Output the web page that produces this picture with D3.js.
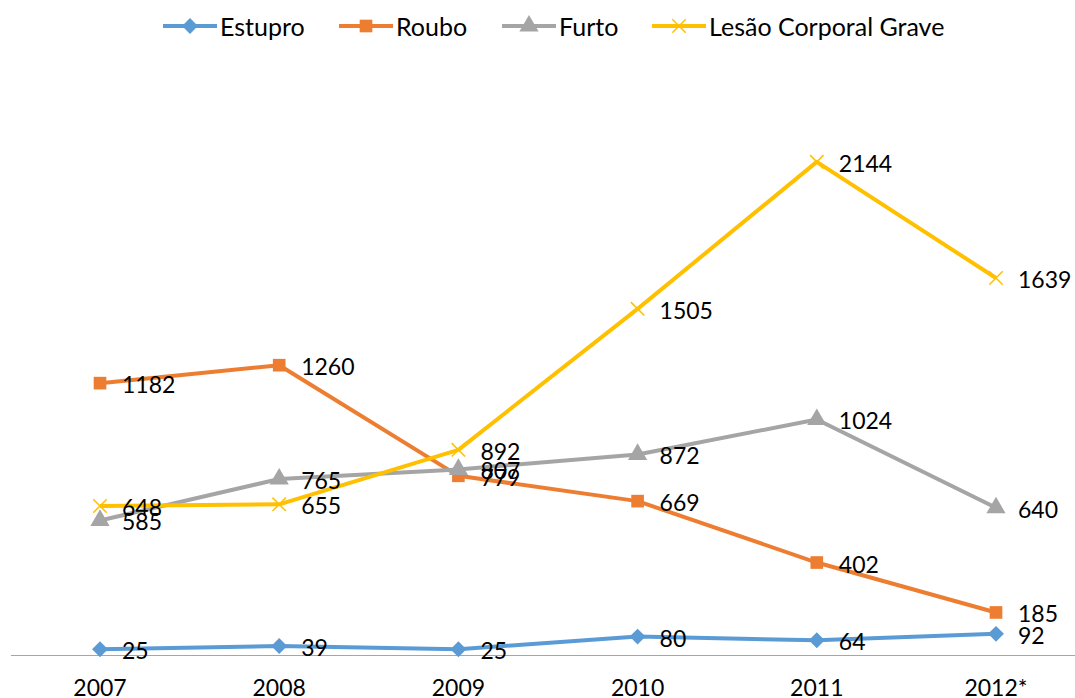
<!DOCTYPE html>
<html>
<head>
<meta charset="utf-8">
<script src="https://cdn.jsdelivr.net/npm/d3@7"></script>
<style>
  body { margin: 0; background: #fff; }
  text { font-family: Lato, "Open Sans", sans-serif; fill: #000; }
</style>
</head>
<body>
<div id="chart"></div>
<script>
const years = ["2007", "2008", "2009", "2010", "2011", "2012*"];
const estupro = [25, 39, 25, 80, 64, 92];
const roubo = [1182, 1260, 779, 669, 402, 185];
const furto = [585, 765, 807, 872, 1024, 640];
const lesao = [648, 655, 892, 1505, 2144, 1639];

const series = [
  { name: "Estupro", values: estupro, color: "#5B9BD5", symbol: d3.symbolDiamond2 },
  { name: "Roubo", values: roubo, color: "#ED7D31", symbol: d3.symbolSquare },
  { name: "Furto", values: furto, color: "#A5A5A5", symbol: d3.symbolTriangle },
  { name: "Lesão Corporal Grave", values: lesao, color: "#FFC000", symbol: d3.symbolTimes }
];

const width = 1075, height = 698;
const svg = d3.select("#chart").append("svg")
  .attr("width", width)
  .attr("height", height);

const x = d3.scaleBand().domain(years).range([10.4, 1085.6]);
const y = d3.scaleLinear().domain([0, 2500]).range([655, 80]);
const cx = d => x(d) + x.bandwidth() / 2;

// x axis
const axis = svg.append("g")
  .attr("transform", `translate(0,${y(0)})`)
  .call(d3.axisBottom(x).tickSize(0).tickPadding(25));
axis.select(".domain").attr("stroke", "#a6a6a6").attr("stroke-width", 1);
axis.selectAll("text").style("font-size", "23px").style("font-family", "Lato, sans-serif");

const line = d3.line()
  .x((v, i) => cx(years[i]))
  .y(v => y(v));

function marker(sel, s) {
  const isX = s.symbol === d3.symbolTimes;
  sel.attr("d", d3.symbol().type(s.symbol).size(isX ? 120 : 160))
    .attr("fill", isX ? "none" : s.color)
    .attr("stroke", isX ? s.color : "none")
    .attr("stroke-width", 1.5);
}

series.forEach(s => {
  const g = svg.append("g");
  g.append("path")
    .attr("d", line(s.values))
    .attr("fill", "none")
    .attr("stroke", s.color)
    .attr("stroke-width", 4)
    .attr("stroke-linejoin", "round");
  g.selectAll("path.mark")
    .data(s.values)
    .enter().append("path")
    .attr("class", "mark")
    .attr("transform", (v, i) => `translate(${cx(years[i])},${y(v)})`)
    .call(marker, s);
});

// data labels
series.forEach(s => {
  svg.append("g").selectAll("text")
    .data(s.values)
    .enter().append("text")
    .attr("x", (v, i) => cx(years[i]) + 22)
    .attr("y", v => y(v) + 10)
    .style("font-size", "23px")
    .text(v => v);
});

// legend
const legendX = [163, 339, 502, 652];
const legend = svg.append("g").attr("transform", "translate(0,26)");
series.forEach((s, i) => {
  const g = legend.append("g").attr("transform", `translate(${legendX[i]},0)`);
  g.append("line")
    .attr("x1", 0).attr("x2", 54)
    .attr("stroke", s.color).attr("stroke-width", 4);
  g.append("path")
    .attr("transform", "translate(27,0)")
    .call(marker, s);
  g.append("text")
    .attr("x", 57)
    .attr("y", 10)
    .style("font-size", "25px")
    .text(s.name);
});
</script>
</body>
</html>
